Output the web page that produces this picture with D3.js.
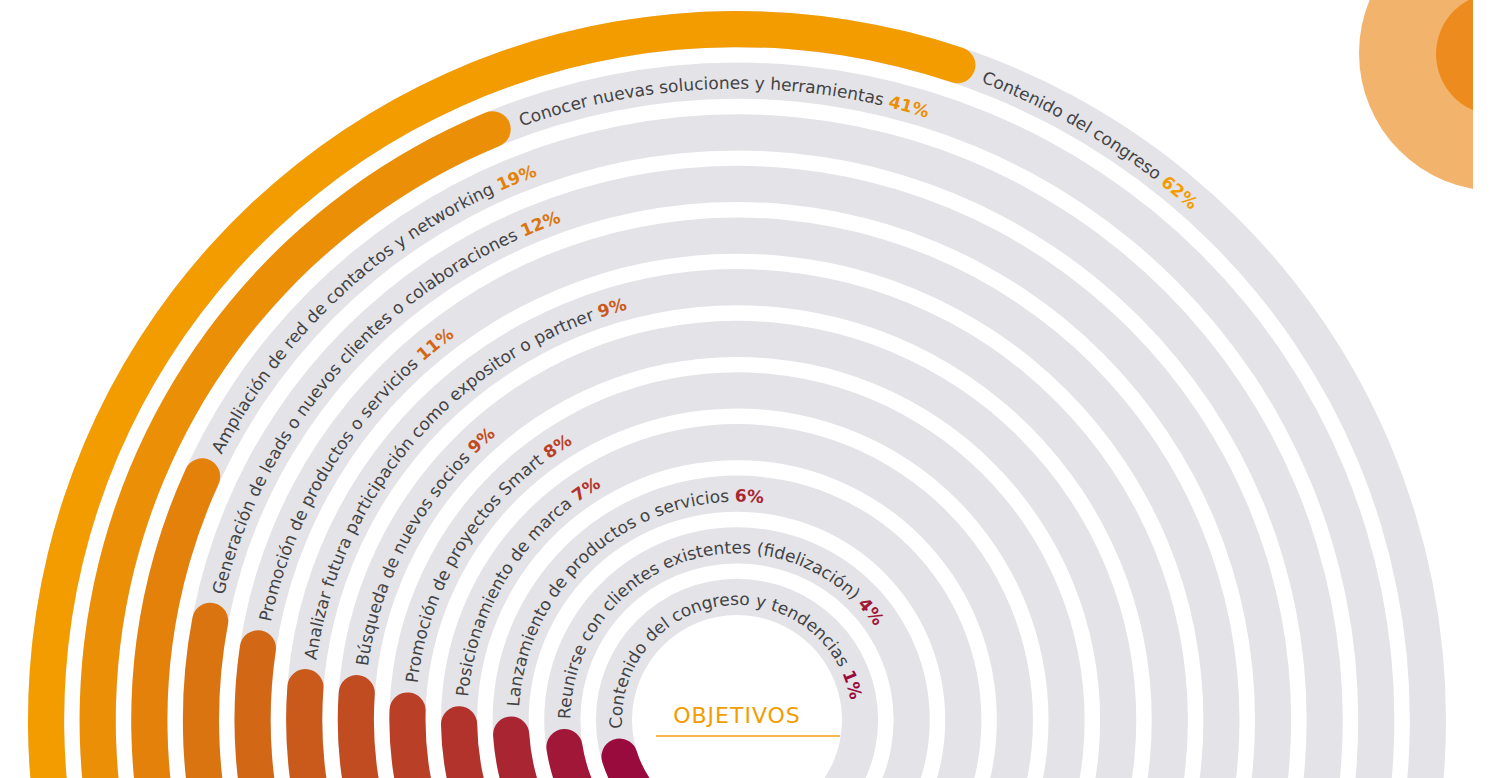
<!DOCTYPE html>
<html>
<head>
<meta charset="utf-8">
<script src="https://cdn.jsdelivr.net/npm/d3@7"></script>
<style>
  html, body { margin: 0; padding: 0; background: #fff; overflow: hidden; }
  svg { display: block; font-family: "DejaVu Sans", sans-serif; }
</style>
</head>
<body>
<svg id="chart" width="1495" height="778"></svg>
<script>
// datos (de fuera hacia dentro)
const objetivos = [
    'Contenido del congreso',
    'Conocer nuevas soluciones y herramientas',
    'Ampliación de red de contactos y networking',
    'Generación de leads o nuevos clientes o colaboraciones',
    'Promoción de productos o servicios',
    'Analizar futura participación como expositor o partner',
    'Búsqueda de nuevos socios',
    'Promoción de proyectos Smart',
    'Posicionamiento de marca',
    'Lanzamiento de productos o servicios',
    'Reunirse con clientes existentes (fidelización)',
    'Contenido del congreso y tendencias'
];
const porcentajes = [62, 41, 19, 12, 11, 9, 9, 8, 7, 6, 4, 1];
const colorInicio = '#F39C00';
const colorFin = '#990A3D';

const width = 1495, height = 778;
const cx = 737, cy = 720;
const deg = Math.PI / 180;

const svg = d3.select('#chart');
const defs = svg.append('defs');

// radio de cada anillo
const radio = d3.scaleBand()
    .domain(objetivos)
    .range([709, 105])
    .paddingInner(0.3);

// porcentaje -> angulo (0 = arriba, sentido horario)
const angulo = d3.scaleLinear()
    .domain([0, 100])
    .range([-100.8 * deg, 94.2 * deg]);

const inicioPista = -135 * deg;
const finPista = 135 * deg;

const color = d3.scaleLinear()
    .domain([0, objetivos.length - 1])
    .range([colorInicio, colorFin])
    .interpolate(d3.interpolateRgb);

const g = svg.append('g').attr('transform', `translate(${cx},${cy})`);

const filas = objetivos.map((nombre, i) => ({ nombre, valor: porcentajes[i], i }));

const arco = d3.arc()
    .innerRadius(d => radio(d.nombre))
    .outerRadius(d => radio(d.nombre) + radio.bandwidth());

// pistas grises
g.selectAll('path.pista')
    .data(filas)
    .enter()
    .append('path')
    .attr('class', 'pista')
    .attr('fill', '#E4E3E8')
    .attr('d', d => arco({ ...d, startAngle: inicioPista, endAngle: finPista }));

// barras
const arcoBarra = d3.arc()
    .innerRadius(d => radio(d.nombre))
    .outerRadius(d => radio(d.nombre) + radio.bandwidth())
    .cornerRadius(radio.bandwidth() / 2);

g.selectAll('path.barra')
    .data(filas)
    .enter()
    .append('path')
    .attr('class', 'barra')
    .attr('fill', d => color(d.i))
    .attr('d', d => arcoBarra({ ...d, startAngle: inicioPista, endAngle: angulo(d.valor) }));

// caminos para las etiquetas
filas.forEach(d => {
    const rMedio = radio(d.nombre) + radio.bandwidth() / 2;
    const rTexto = rMedio - 8;
    const a0 = angulo(d.valor) + 10 / rMedio;
    const p = d3.path();
    p.arc(0, 0, rTexto, a0 - Math.PI / 2, a0 + 250 * deg - Math.PI / 2);
    defs.append('path').attr('id', `lbl-${d.i}`).attr('d', p.toString());
});

const etiquetas = g.selectAll('text.etiqueta')
    .data(filas)
    .enter()
    .append('text')
    .attr('class', 'etiqueta')
    .attr('font-size', 17)
    .attr('fill', '#434345')
    .append('textPath')
    .attr('href', d => `#lbl-${d.i}`);

etiquetas.append('tspan').text(d => d.nombre + ' ');
etiquetas.append('tspan')
    .attr('font-weight', 'bold')
    .attr('fill', d => color(d.i))
    .text(d => d.valor + '%');

// titulo central
svg.append('text')
    .attr('x', cx)
    .attr('y', 723)
    .attr('text-anchor', 'middle')
    .attr('font-size', 22)
    .attr('letter-spacing', 1)
    .attr('fill', '#F39C00')
    .text('OBJETIVOS');

svg.append('line')
    .attr('x1', 656).attr('x2', 840)
    .attr('y1', 736).attr('y2', 736)
    .attr('stroke', '#F6B84E')
    .attr('stroke-width', 2);

// decoracion arriba a la derecha
defs.append('clipPath').attr('id', 'recorte')
    .append('rect').attr('x', 0).attr('y', 0).attr('width', 1473).attr('height', height);

const deco = svg.append('g').attr('clip-path', 'url(#recorte)');
deco.append('circle').attr('cx', 1497).attr('cy', 53).attr('r', 138).attr('fill', '#F2B46D');
deco.append('circle').attr('cx', 1497).attr('cy', 54).attr('r', 61).attr('fill', '#EE8B1F');
</script>
</body>
</html>
